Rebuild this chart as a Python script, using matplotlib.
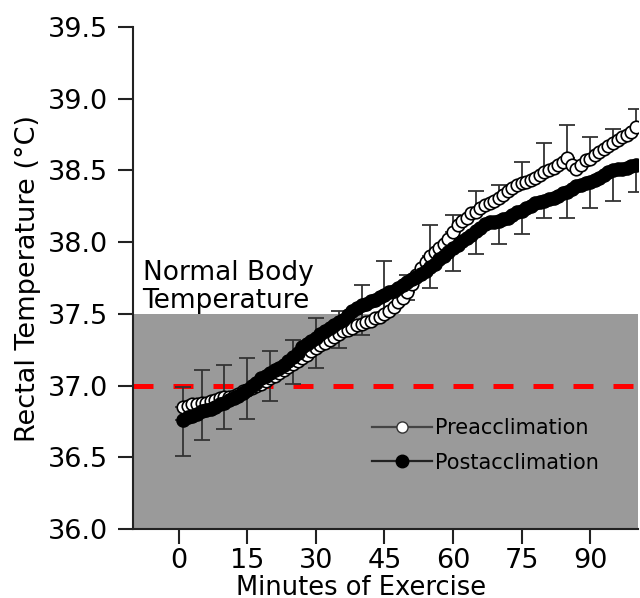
import matplotlib
matplotlib.use("Agg")
import matplotlib.pyplot as plt
from matplotlib.lines import Line2D
import numpy as np

# minutes of exercise, one reading per minute
minutes = np.arange(1, 101)

pre_temp = [
    36.85, 36.86, 36.87, 36.87, 36.88, 36.88, 36.89, 36.90, 36.91, 36.92,
    36.92, 36.93, 36.94, 36.96, 36.97, 36.98, 37.00, 37.01, 37.03, 37.05,
    37.07, 37.09, 37.11, 37.13, 37.15, 37.17, 37.19, 37.21, 37.24, 37.26,
    37.28, 37.30, 37.32, 37.34, 37.36, 37.38, 37.39, 37.40, 37.42, 37.43,
    37.44, 37.45, 37.47, 37.48, 37.50, 37.52, 37.55, 37.58, 37.61, 37.65,
    37.71, 37.77, 37.82, 37.86, 37.90, 37.93, 37.96, 37.99, 38.02, 38.07,
    38.12, 38.15, 38.17, 38.20, 38.21, 38.24, 38.26, 38.27, 38.29, 38.31,
    38.33, 38.36, 38.38, 38.40, 38.41, 38.42, 38.43, 38.45, 38.47, 38.49,
    38.50, 38.52, 38.54, 38.56, 38.59, 38.54, 38.51, 38.54, 38.57, 38.58,
    38.61, 38.63, 38.65, 38.67, 38.69, 38.71, 38.73, 38.75, 38.77, 38.80,
]

post_temp = [
    36.76, 36.78, 36.79, 36.80, 36.82, 36.83, 36.84, 36.85, 36.87, 36.88,
    36.90, 36.91, 36.93, 36.95, 36.97, 37.00, 37.02, 37.05, 37.07, 37.09,
    37.11, 37.12, 37.14, 37.17, 37.20, 37.23, 37.27, 37.29, 37.31, 37.33,
    37.36, 37.38, 37.40, 37.42, 37.44, 37.46, 37.49, 37.52, 37.54, 37.56,
    37.57, 37.59, 37.60, 37.62, 37.63, 37.65, 37.66, 37.68, 37.70, 37.72,
    37.74, 37.76, 37.78, 37.80, 37.83, 37.85, 37.88, 37.90, 37.93, 37.96,
    37.98, 38.01, 38.03, 38.05, 38.08, 38.10, 38.13, 38.14, 38.14, 38.15,
    38.16, 38.17, 38.19, 38.21, 38.22, 38.24, 38.25, 38.27, 38.28, 38.29,
    38.30, 38.31, 38.32, 38.34, 38.35, 38.37, 38.39, 38.40, 38.41, 38.42,
    38.43, 38.45, 38.47, 38.49, 38.50, 38.51, 38.51, 38.52, 38.53, 38.54,
]

# error bars every 5 minutes (pre shown upward, post shown downward)
err_minutes = [1, 5, 10, 15, 20, 25, 30, 35, 40, 45, 50, 55, 60, 65, 70, 75, 80, 85, 90, 95, 100]
pre_err = [0.14, 0.23, 0.22, 0.22, 0.19, 0.17, 0.21, 0.16, 0.27, 0.37, 0.12,
           0.22, 0.12, 0.15, 0.09, 0.15, 0.20, 0.23, 0.15, 0.10, 0.13]
post_err = [0.25, 0.20, 0.18, 0.20, 0.20, 0.19, 0.21, 0.18, 0.21, 0.15, 0.12,
            0.15, 0.16, 0.16, 0.16, 0.16, 0.12, 0.18, 0.18, 0.21, 0.19]

normal_upper = 37.5
normal_line = 37.0

pre_at_err = [pre_temp[m - 1] for m in err_minutes]
post_at_err = [post_temp[m - 1] for m in err_minutes]

fig = plt.figure(figsize=(6.4, 5.98), dpi=100)
ax = fig.add_axes([0.2078, 0.1154, 0.7892, 0.8394])

ax.axhspan(36.0, normal_upper, color='#9a9a9a', zorder=0, lw=0)
ax.axhline(normal_line, color='#ff0000', lw=3.6, dashes=(4, 4), zorder=1)

ebar_col = '#333333'
ax.errorbar(err_minutes, pre_at_err, yerr=[np.zeros(len(pre_err)), pre_err],
            fmt='none', ecolor=ebar_col, elinewidth=1.3, capsize=6, capthick=1.3, zorder=2)
ax.errorbar(err_minutes, post_at_err, yerr=[post_err, np.zeros(len(post_err))],
            fmt='none', ecolor=ebar_col, elinewidth=1.3, capsize=6, capthick=1.3, zorder=2)

ax.plot(minutes, pre_temp, 'o', ms=9, mfc='white', mec='black', mew=1.2, zorder=3)
ax.plot(minutes, post_temp, 'o', ms=9.5, mfc='black', mec='black', mew=1.0, zorder=4)

ax.text(-7.9, 37.54, "Normal Body\nTemperature", fontsize=19, va='baseline',
        ha='left', linespacing=1.1)

handles = [
    Line2D([], [], color='#444444', lw=1.6, marker='o', ms=8, mfc='white', mec='#333333'),
    Line2D([], [], color='#222222', lw=1.6, marker='o', ms=9, mfc='black', mec='black'),
]
ax.legend(handles, ['Preacclimation', 'Postacclimation'], loc='upper left',
          bbox_to_anchor=(0.452, 0.242), frameon=False, fontsize=15,
          handlelength=2.9, handletextpad=0.15, labelspacing=0.7, borderpad=0)

ax.set_xlim(-10, 100.5)
ax.set_ylim(36.0, 39.5)
ax.set_xticks([0, 15, 30, 45, 60, 75, 90])
ax.set_yticks([36.0, 36.5, 37.0, 37.5, 38.0, 38.5, 39.0, 39.5])
ax.set_yticklabels(['36.0', '36.5', '37.0', '37.5', '38.0', '38.5', '39.0', '39.5'])

for s in ['top', 'right']:
    ax.spines[s].set_visible(False)
for s in ['left', 'bottom']:
    ax.spines[s].set_linewidth(1.5)
    ax.spines[s].set_color('#222222')

ax.tick_params(axis='both', direction='out', length=11, width=1.5, color='#222222',
               labelsize=19.5)
ax.tick_params(axis='y', pad=7)
ax.tick_params(axis='x', pad=3)

ax.set_xlabel('Minutes of Exercise', fontsize=18.5)
ax.xaxis.set_label_coords(0.451, -0.091)
ax.set_ylabel('Rectal Temperature (°C)', fontsize=19.5, labelpad=5)

fig.savefig('out.png', dpi=100)
